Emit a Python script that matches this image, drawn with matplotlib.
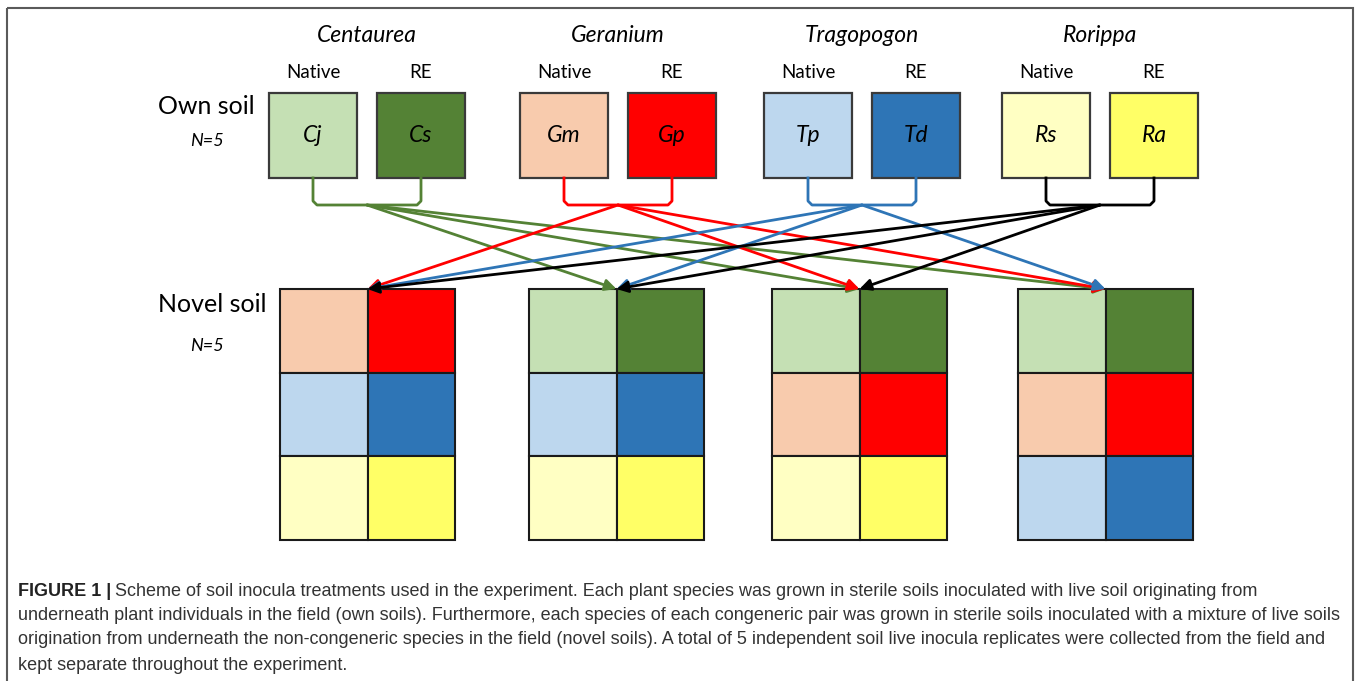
"""
Scheme of soil inocula treatments (own soil vs novel soil).
"""

import matplotlib.pyplot as plt
from matplotlib.patches import Rectangle

# genera and their native / range-expanding (RE) species
genera = ['Centaurea', 'Geranium', 'Tragopogon', 'Rorippa']
native_codes = ['Cj', 'Gm', 'Tp', 'Rs']
re_codes = ['Cs', 'Gp', 'Td', 'Ra']
native_colors = ['#C5E0B4', '#F8CBAD', '#BDD7EE', '#FFFFC3']
re_colors = ['#548235', '#FF0000', '#2E75B6', '#FFFF66']
arrow_colors = ['#548235', '#FF0000', '#2E75B6', '#000000']

# novel soil: which genera's soils are mixed for each genus (rows top to bottom)
novel_rows = {
    'Centaurea': ['Geranium', 'Tragopogon', 'Rorippa'],
    'Geranium': ['Centaurea', 'Tragopogon', 'Rorippa'],
    'Tragopogon': ['Centaurea', 'Geranium', 'Rorippa'],
    'Rorippa': ['Centaurea', 'Geranium', 'Tragopogon'],
}

caption_lines = [
    "Scheme of soil inocula treatments used in the experiment. Each plant species was grown in sterile soils inoculated with live soil originating from",
    "underneath plant individuals in the field (own soils). Furthermore, each species of each congeneric pair was grown in sterile soils inoculated with a mixture of live soils",
    "origination from underneath the non-congeneric species in the field (novel soils). A total of 5 independent soil live inocula replicates were collected from the field and",
    "kept separate throughout the experiment.",
]

# layout (pixel coordinates, y downwards)
own_left = [269, 520, 764, 1002]
own_gap = 20
own_w, own_h = 88, 85
own_top = 93
bracket_y = 205
novel_left = [280, 529, 772, 1018]
novel_top = 289
cell_w, cell_h = 87.5, 83.5

fig = plt.figure(figsize=(13.58, 6.81), dpi=100)
ax = fig.add_axes([0, 0, 1, 1])
ax.set_xlim(0, 1358)
ax.set_ylim(681, 0)
ax.axis('off')

title_font = 'Lato'
edge = '#3a3a3a'

# outer frame
ax.add_patch(Rectangle((7, 8), 1346, 700, fill=False, edgecolor='#5a5a5a', lw=1.5))

ax.text(158, 106, 'Own soil', fontsize=18, family=title_font, va='center', ha='left')
ax.text(207, 141, 'N=5', fontsize=13, family=title_font, style='italic', va='center', ha='center')
ax.text(158, 304, 'Novel soil', fontsize=18, family=title_font, va='center', ha='left')
ax.text(207, 346, 'N=5', fontsize=13, family=title_font, style='italic', va='center', ha='center')

origins = []
for i, genus in enumerate(genera):
    x_n = own_left[i]
    x_r = x_n + own_w + own_gap
    mid = (x_n + x_r + own_w) / 2
    ax.text(mid, 36, genus, fontsize=16.5, family=title_font, style='italic', ha='center', va='center')
    for x, code, col, lab in [(x_n, native_codes[i], native_colors[i], 'Native'),
                              (x_r, re_codes[i], re_colors[i], 'RE')]:
        ax.add_patch(Rectangle((x, own_top), own_w, own_h, facecolor=col, edgecolor=edge, lw=1.6))
        ax.text(x + own_w / 2, 73, lab, fontsize=13.5, family=title_font, ha='center', va='center')
        ax.text(x + own_w / 2, own_top + own_h / 2, code, fontsize=16.5, family=title_font,
                style='italic', ha='center', va='center')
    # bracket joining the pair
    cn = x_n + own_w / 2
    cr = x_r + own_w / 2
    ax.plot([cn, cn, cn + 4, cr - 4, cr, cr],
            [own_top + own_h, bracket_y - 4, bracket_y, bracket_y, bracket_y - 4, own_top + own_h],
            color=arrow_colors[i], lw=2, solid_joinstyle='round')
    origins.append(mid)

# novel soil grids
for j, genus in enumerate(genera):
    x0 = novel_left[j]
    for r, src in enumerate(novel_rows[genus]):
        k = genera.index(src)
        y = novel_top + r * cell_h
        ax.add_patch(Rectangle((x0, y), cell_w, cell_h, facecolor=native_colors[k], edgecolor='#1a1a1a', lw=1.5))
        ax.add_patch(Rectangle((x0 + cell_w, y), cell_w, cell_h, facecolor=re_colors[k], edgecolor='#1a1a1a', lw=1.5))

# arrows from each pair to the novel grids that contain it
for k, genus in enumerate(genera):
    for j, target in enumerate(genera):
        if genus in novel_rows[target]:
            tx = novel_left[j] + cell_w
            ax.annotate('', xy=(tx, novel_top), xytext=(origins[k], bracket_y),
                        arrowprops=dict(arrowstyle='-|>', color=arrow_colors[k], lw=2,
                                        mutation_scale=17, shrinkA=0, shrinkB=0))

# caption
cap_font = 'Liberation Sans'
cap_size = 13
cap_y = [591, 615, 640, 665]
bold = ax.text(18, cap_y[0], 'FIGURE 1 |', fontsize=cap_size, family=cap_font, weight='bold',
               color='#222222', va='center', ha='left')
fig.canvas.draw()
bb = bold.get_window_extent()
ax.text(bb.x1 + 4, cap_y[0], caption_lines[0], fontsize=cap_size, family=cap_font,
        color='#333333', va='center', ha='left')
for y, line in zip(cap_y[1:], caption_lines[1:]):
    ax.text(18, y, line, fontsize=cap_size, family=cap_font, color='#333333', va='center', ha='left')

plt.savefig('out.png', dpi=100)
plt.close(fig)
